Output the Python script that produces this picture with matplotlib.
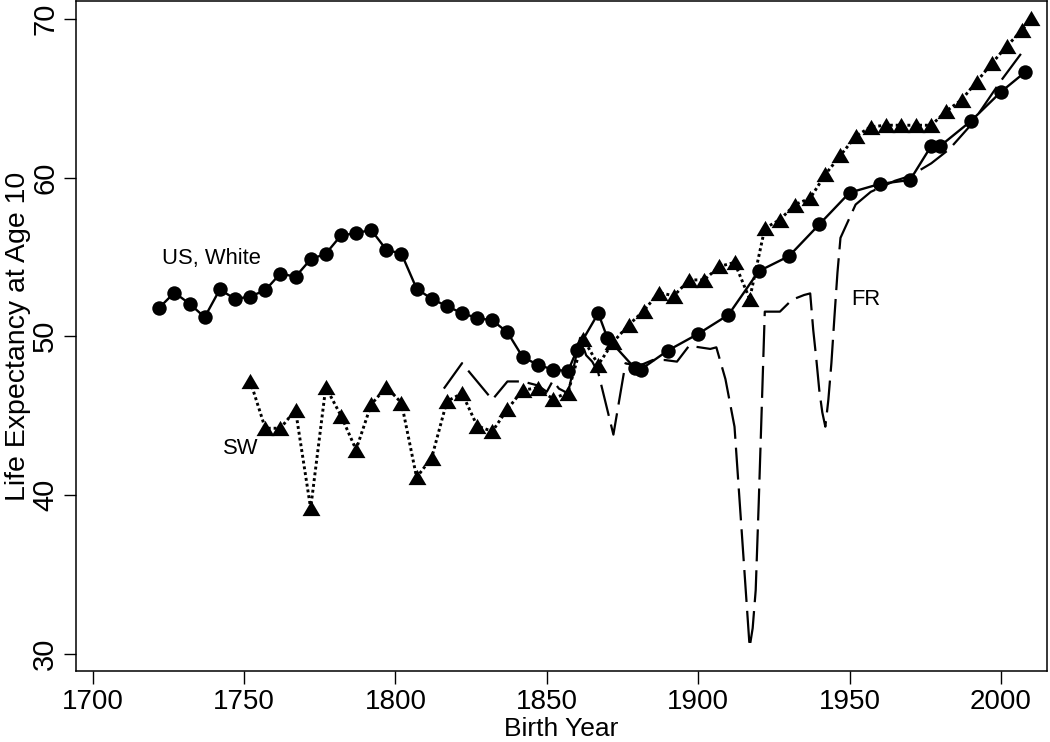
import matplotlib
matplotlib.use("Agg")
import matplotlib.pyplot as plt

# ---- data ----
us_years = [1722, 1727, 1732, 1737, 1742, 1747, 1752, 1757, 1762, 1767,
            1772, 1777, 1782, 1787, 1792, 1797, 1802, 1807, 1812, 1817,
            1822, 1827, 1832, 1837, 1842, 1847, 1852, 1857, 1860, 1867,
            1870, 1879, 1881, 1890, 1900, 1910, 1920, 1930, 1940, 1950,
            1960, 1970, 1977, 1980, 1990, 2000, 2008]
us_vals = [51.8, 52.75, 52.05, 51.2, 52.95, 52.35, 52.5, 52.9, 53.95, 53.75,
           54.85, 55.2, 56.35, 56.5, 56.7, 55.45, 55.2, 53.0, 52.35, 51.9,
           51.45, 51.15, 51.0, 50.25, 48.7, 48.2, 47.9, 47.8, 49.15, 51.45,
           49.9, 48.0, 47.9, 49.1, 50.15, 51.35, 54.1, 55.05, 57.05, 59.05,
           59.6, 59.85, 62.0, 62.0, 63.55, 65.4, 66.65]

sw_years = [1752, 1757, 1762, 1767, 1772, 1777, 1782, 1787, 1792, 1797,
            1802, 1807, 1812, 1817, 1822, 1827, 1832, 1837, 1842, 1847,
            1852, 1857, 1862, 1867, 1872, 1877, 1882, 1887, 1892, 1897,
            1902, 1907, 1912, 1917, 1922, 1927, 1932, 1937, 1942, 1947,
            1952, 1957, 1962, 1967, 1972, 1977, 1982, 1987, 1992, 1997,
            2002, 2007, 2010]
sw_vals = [47.2, 44.2, 44.2, 45.35, 39.15, 46.8, 45.0, 42.85, 45.7, 46.8,
           45.8, 41.1, 42.35, 45.9, 46.4, 44.35, 44.0, 45.4, 46.6, 46.75,
           46.05, 46.45, 49.85, 48.2, 49.65, 50.7, 51.6, 52.75, 52.55, 53.55,
           53.55, 54.4, 54.65, 52.35, 56.8, 57.35, 58.3, 58.7, 60.2, 61.4,
           62.6, 63.2, 63.3, 63.3, 63.3, 63.3, 64.2, 64.9, 66.05, 67.2,
           68.3, 69.3, 70.05]

fr_years = [1816, 1822, 1832, 1837, 1842, 1847, 1850, 1852, 1854, 1857,
            1861, 1863, 1865, 1867, 1872, 1876, 1880, 1885, 1889, 1893,
            1897, 1904, 1906, 1909, 1912, 1917, 1918, 1919, 1920, 1921,
            1922, 1927, 1931, 1935, 1937, 1938, 1939, 1940, 1941, 1942,
            1943, 1944, 1945, 1946, 1947, 1952, 1957, 1965, 1970, 1977,
            1983, 1990, 2000, 2007]
fr_vals = [46.7, 48.3, 46.0, 47.15, 47.15, 46.9, 46.5, 47.2, 46.7, 46.4,
           49.9, 48.8, 48.4, 47.7, 43.8, 48.3, 48.1, 48.5, 48.5, 48.4,
           49.4, 49.2, 49.3, 47.3, 44.3, 30.4, 31.6, 34.0, 39.5, 45.5,
           51.55, 51.55, 52.3, 52.6, 52.7, 50.4, 48.6, 46.6, 45.2, 44.3,
           46.0, 48.3, 51.2, 54.0, 56.2, 58.3, 59.1, 59.8, 60.1, 60.9,
           61.8, 63.3, 66.1, 67.9]

x_ticks = [1700, 1750, 1800, 1850, 1900, 1950, 2000]
y_ticks = [30, 40, 50, 60, 70]

labels = [("US, White", 1722.8, 54.9),
          ("SW", 1743.1, 42.9),
          ("FR", 1950.7, 52.3)]

# ---- figure ----
plt.rcParams['font.family'] = ['Liberation Sans', 'DejaVu Sans']
fig = plt.figure(figsize=(10.5, 7.42), dpi=100)
ax = fig.add_axes([0.0721, 0.0957, 0.9971 - 0.0721, 0.998 - 0.0957])

tri = [(-0.5, -0.425), (0.5, -0.425), (0.0, 0.425), (-0.5, -0.425)]

ax.plot(fr_years, fr_vals, color='black', lw=1.6,
        linestyle=(0, (14.4, 4.0)), zorder=2)
ax.plot(sw_years, sw_vals, color='black', lw=2.1, linestyle=(0, (1.0, 1.0)),
        marker=tri, markersize=12.9, markeredgewidth=0, zorder=3)
ax.plot(us_years, us_vals, color='black', lw=1.7, linestyle='-',
        marker='o', markersize=10.4, markeredgewidth=0, zorder=4)

for txt, x, y in labels:
    ax.text(x, y, txt, fontsize=15.8, ha='left', va='center', color='black')

ax.set_xlim(1694.4, 2015.2)
ax.set_ylim(28.9, 71.1)
ax.set_xticks(x_ticks)
ax.set_yticks(y_ticks)
ax.set_xticklabels([str(v) for v in x_ticks], fontsize=20)
ax.set_yticklabels([str(v) for v in y_ticks], fontsize=21,
                   rotation=90, va='center')
ax.tick_params(axis='both', direction='out', length=9, width=1.0,
               color='black')
ax.tick_params(axis='x', pad=4)
ax.tick_params(axis='y', pad=3)
for s in ax.spines.values():
    s.set_linewidth(1.1)
    s.set_color('black')

ax.set_xlabel("Birth Year", fontsize=19, va='bottom')
ax.xaxis.set_label_coords(0.5, -0.104)
ax.set_ylabel("Life Expectancy at Age 10", fontsize=20.5)
ax.yaxis.set_label_coords(-0.046, 0.5)

fig.savefig("out.png", dpi=100)
